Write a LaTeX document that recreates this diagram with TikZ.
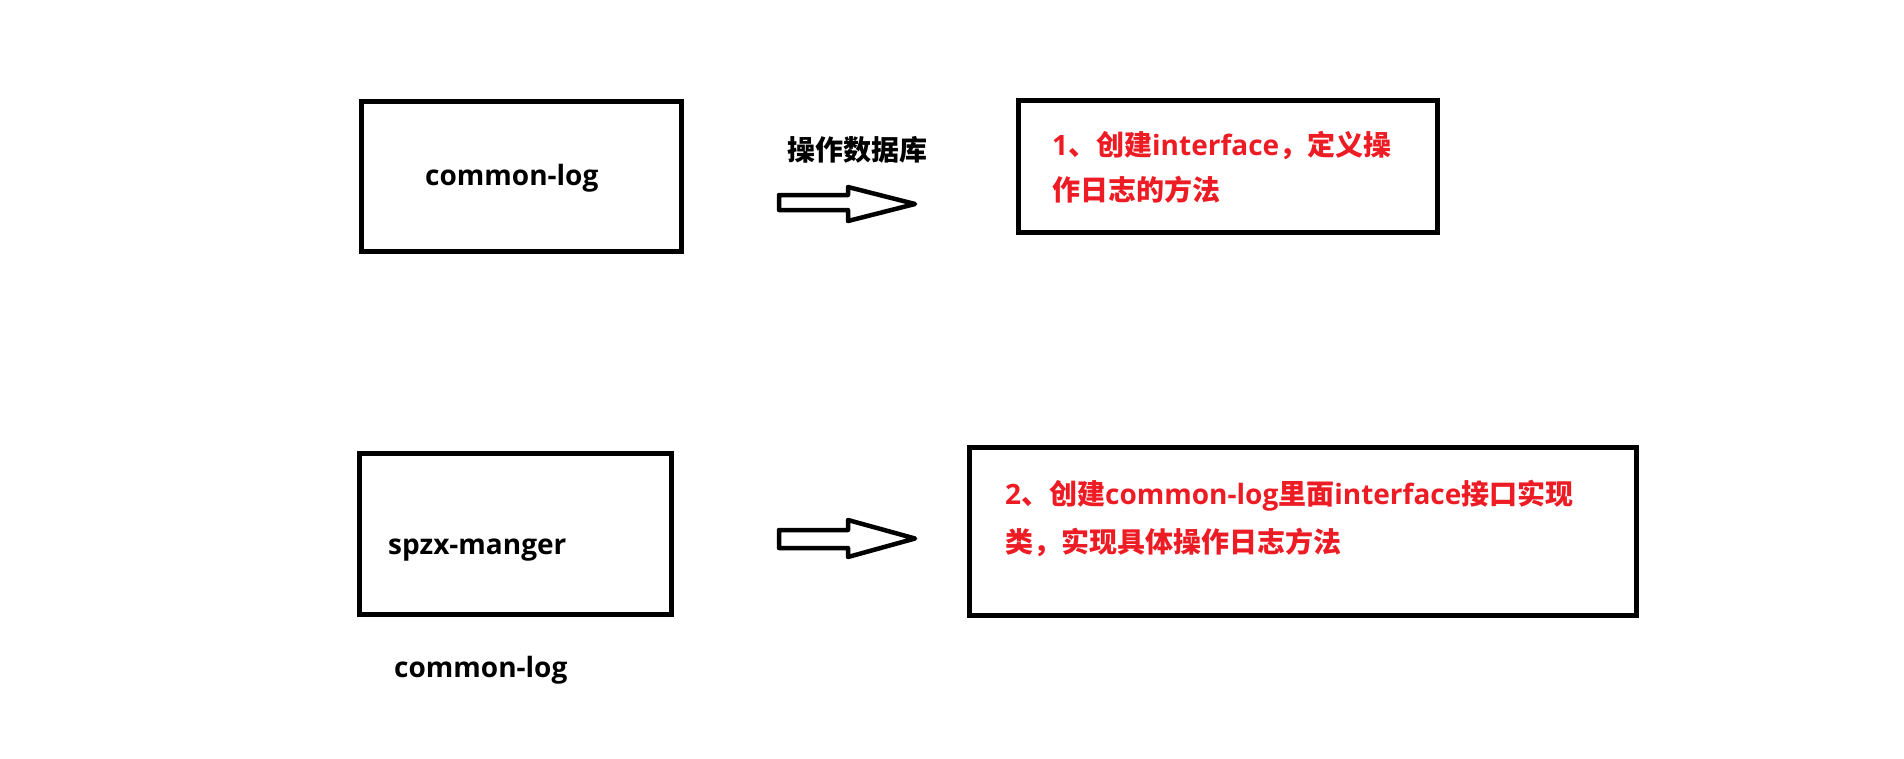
\documentclass[tikz,border=0pt]{standalone}
\usepackage{fontspec}
\setmainfont{Open Sans}
\newfontfamily\cjk{Noto Sans CJK SC}
\usepackage{tikz}
\usetikzlibrary{positioning}

\definecolor{notered}{RGB}{237,28,36}
\newcommand{\zh}[1]{{\cjk #1}}

\begin{document}
\begin{tikzpicture}[x=1pt, y=-1pt,
  panel/.style={draw, line width=5pt, inner sep=0pt, outer sep=0pt},
  blockarrow/.style={draw, line width=4.5pt, line join=round, fill=white},
  label/.style={anchor=base west, inner sep=0pt, font=\bfseries\fontsize{28}{34}\selectfont},
  note/.style={label, text=notered}]

\useasboundingbox (0,0) rectangle (1904,758);

% module boxes
\node[panel, minimum width=320, minimum height=150] (logbox) at (521,176) {};
\node[panel, minimum width=419, minimum height=132] (step1box) at (1227.5,166) {};
\node[panel, minimum width=312, minimum height=161] (mgrbox) at (515,533.5) {};
\node[panel, minimum width=667, minimum height=168] (step2box) at (1302.5,531) {};

% texts
\node[label] (logname) at (425,185) {common-log};
\node[label] (dblabel) at (787,160) {\zh{操作数据库}};
\node[label] (mgrname) at (388,554) {spzx-manger};
\node[label] (depname) at (394,677) {common-log};

\node[note] (step1a) at (1052,155) {1\zh{、创建}interface\zh{，定义操}};
\node[note] (step1b) at (1052,200) {\zh{作日志的方法}};
\node[note] (step2a) at (1005,504) {2\zh{、创建}common-log\zh{里面}interface\zh{接口实现}};
\node[note] (step2b) at (1005,552) {\zh{类，实现具体操作日志方法}};

% block arrows
\draw[blockarrow] (779,195) -- (848,195) -- (848,187) -- (915,204) -- (848,221) -- (848,210) -- (779,210) -- cycle;
\draw[blockarrow] (779,530) -- (848,530) -- (848,520) -- (915,538.5) -- (848,557) -- (848,548) -- (779,548) -- cycle;

\end{tikzpicture}
\end{document}
